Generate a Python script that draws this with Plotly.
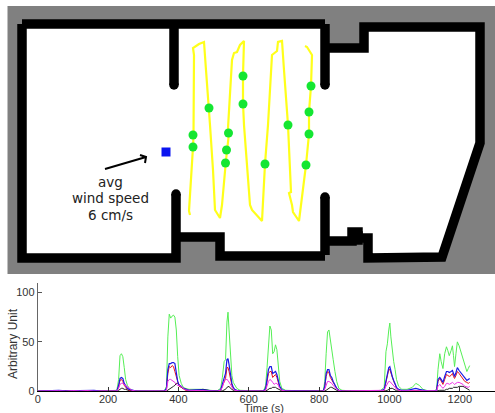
import plotly.graph_objects as go

# ---------- floor plan, in picture units ----------
ground_x = [7.5, 495, 495, 7.5, 7.5]
ground_y = [6, 6, 274, 274, 6]
room_x = [22, 325, 325, 364, 364, 480, 480, 442, 368, 368, 325, 325, 220, 220, 176, 176, 22, 22]
room_y = [24, 24, 48, 48, 27, 27, 143, 257, 258, 238, 241, 256, 256, 237, 237, 258, 258, 24]
wall_x = [325, 325, None, 174, 174, None, 22, 325, None, 325, 364, 364, 480, 480, 442, 368, 368, 358, 358, 352, 352, 325, None,
          325, 325, None, 325, 220, 220, 176, None, 176, 176, 22, 22, None, 352, 358, 358, 352]
wall_y = [24, 85, None, 24, 85, None, 24, 24, None, 48, 48, 27, 27, 143, 257, 258, 238, 238, 232, 232, 241, 241, None,
          197, 255, None, 256, 256, 237, 237, None, 194, 258, 258, 24, None, 236, 236, 240, 240]
wall_end_x = [325, 174, 325, 176]
wall_end_y = [85, 85, 197, 194]

path_x = [190, 189, 193, 193.5, 194, 193, 193, 199, 204, 206, 209, 210, 213, 215, 220, 222, 226, 229, 228, 232,
          234, 237, 240, 244, 243, 243, 244, 247, 250, 252, 262, 265, 268, 272, 277, 278, 282, 284, 288, 291,
          289, 292, 293, 299, 306, 309, 309, 311, 312, 307, 305]
path_y = [215, 211, 147, 135, 55, 50, 48, 44, 42, 70, 108, 125, 170, 210, 218, 205, 160, 133, 128, 60,
          53, 52, 45, 41, 75, 103, 125, 165, 205, 210, 221, 164, 125, 55, 51, 42, 41, 70, 125, 192,
          193, 205, 212, 221, 165, 134, 112, 86, 55, 47, 46]
dot_x = [209, 193, 193, 243, 243, 228.5, 226.5, 225.5, 265, 288, 309, 306, 309, 311]
dot_y = [108, 135, 147, 76, 104, 133, 150, 163, 164, 125, 134, 165, 112, 86]
source_x = [166]
source_y = [152]
arrow_x = [105, 146, 140, 146, 145]
arrow_y = [169, 157, 155, 157, 163]
note_lines = ["avg", "wind speed", "6 cm/s"]
note_y = [182, 198, 215]

# ---------- time series ----------
time_s = [0, 20, 40, 60, 80, 100, 120, 140, 160, 180, 200, 215,
          225, 230, 234, 238, 242, 246, 250, 255, 260, 268, 280,
          300, 330, 360,
          366, 370, 374, 378, 382, 386, 390, 394, 398, 402, 408, 414, 420, 430, 450, 470, 490, 510,
          520, 525, 530, 534, 538, 541, 544, 548, 552, 556, 560, 566, 575, 600, 625,
          642, 648, 652, 656, 660, 664, 668, 672, 676, 680, 684, 688, 694, 705, 730, 770, 795,
          812, 816, 820, 824, 828, 832, 836, 840, 845, 850, 856, 865, 890, 930, 960,
          975, 985, 990, 994, 998, 1001, 1004, 1008, 1012, 1016, 1020, 1026, 1035, 1050, 1065, 1075, 1085, 1095, 1110, 1125,
          1134, 1138, 1143, 1147, 1152, 1157, 1162, 1166, 1170, 1175, 1179, 1182, 1185, 1189, 1193, 1198, 1204, 1209, 1214, 1220, 1224, 1228]
green = [0, .5, .5, .8, .5, .6, .8, 1, .6, .2, .3, .3,
         1, 12, 36, 38, 35, 24, 12, 6, 3, 1, .3,
         .2, .1, .3,
         5, 55, 78, 74, 76, 77, 75, 62, 35, 16, 8, 4, 3, 2, 2, 2, 1, .5,
         3, 14, 30, 32, 70, 80, 62, 34, 16, 9, 6, 3, 1, .5, .3,
         .5, 6, 24, 45, 66, 62, 38, 40, 47, 42, 22, 10, 3, 1, .7, 1, .8,
         .5, 10, 38, 60, 62, 50, 42, 32, 20, 10, 3, 1, .5, .3, .5,
         1, 4, 40, 48, 62, 69, 55, 40, 30, 22, 12, 5, 2, 2, 4, 8, 6, 2, .5, .2,
         2, 22, 38, 30, 23, 38, 45, 41, 36, 41, 46, 36, 25, 38, 50, 46, 39, 32, 25, 20, 23, 26]
blue = [.3, .6, .8, 1, .5, .8, 1, 1.2, 1, .3, .2, .3,
        .5, 6, 13, 14, 13, 8, 5, 3, 2, 1, .2,
        .1, .2, .3,
        3, 22, 28, 28, 29, 29, 28, 18, 10, 6, 5, 3, 2, 1, 1.5, 1.5, .6, .3,
        1.5, 7, 12, 18, 32, 33, 27, 16, 8, 4, 2, 1, .4, .2, .1,
        .3, 3, 14, 22, 25, 25, 18, 19, 20, 17, 9, 5, 1.5, .5, .4, .5, .4,
        .3, 5, 18, 22, 22, 16, 14, 10, 7, 3, 1, .5, .3, .2, .3,
        .5, 2, 12, 16, 24, 25, 20, 15, 11, 8, 4, 2, 1, 1, 2, 3, 2, 1, .2, .2,
        1, 12, 14, 12, 9, 15, 20, 20, 19, 20, 21, 18, 15, 19, 24, 21, 18, 16, 13, 11, 12, 13]
red = [0, .3, .2, .5, .3, .2, .6, .3, .2, 0, 0, .1,
       .3, 5, 11, 12, 10, 6, 4, 2, 1, .5, .1,
       0, .1, .1,
       2, 18, 25, 24, 26, 25, 20, 14, 8, 5, 4, 2, 1, .5, .5, .5, .3, .1,
       1, 5, 9, 13, 24, 24, 20, 12, 6, 3, 1.5, .7, .2, .1, .1,
       .2, 2, 12, 18, 20, 20, 14, 16, 17, 14, 8, 4, 1, .3, .2, .2, .2,
       .2, 4, 15, 20, 19, 14, 12, 9, 6, 3, 1, .3, .2, .1, .1,
       .3, 1, 10, 14, 22, 22, 18, 13, 10, 7, 3, 1, .5, .5, .6, 1, .7, .3, .1, .1,
       1, 10, 13, 10, 7, 12, 17, 16, 15, 16, 18, 15, 13, 16, 20, 18, 15, 12, 10, 9, 8, 9]
magenta = [.2, .5, .3, .6, .2, .7, .4, .8, .3, .2, .1, .2,
           .3, 3, 7, 8, 8, 7, 6, 4, 3, 1, .2,
           .5, .3, .2,
           1, 10, 12, 12, 11, 10, 9, 7, 6, 6, 5, 3, 1.5, 1, .6, .5, .4, .2,
           1, 4, 10, 12, 12, 11, 9, 6, 4, 2, 1, .5, .2, .3, .1,
           .2, 1, 6, 10, 12, 11, 9, 7, 8, 8, 6, 3, 1, .3, .2, .2, .3,
           .2, 2, 7, 10, 10, 9, 8, 6, 4, 2, .8, .3, .5, .5, .4,
           .3, 1, 5, 7, 10, 10, 9, 7, 6, 4, 2, 1, .6, .5, .5, .5, .5, .3, .3, .3,
           .5, 5, 7, 5, 3, 5, 8, 8, 7, 8, 9, 8, 7, 8, 9, 9, 8, 7, 5, 4, 4, 5]
black = [.2, .3, .5, .9, .3, .5, .6, 1, .8, .1, .1, .2,
         .1, 1, 2, 3, 3, 2, 2, 1, .6, .2, .1,
         0, .1, .1,
         .2, 1, 2, 3, 4, 5, 6, 8, 8, 7, 5, 3, 2, 1, 1, 2, .6, .1,
         .1, .5, 1, 2, 4, 5, 5, 3, 1.5, 1, .4, .2, .1, .1, .1,
         0, .3, 1, 2, 3, 3, 4, 4, 4, 3, 2, 1, .4, .1, .1, .1, .1,
         0, .3, 1, 2, 3, 4, 4, 3, 2, 1, .4, .1, .1, .1, .1,
         .1, .2, .5, 1, 2, 3, 3, 3, 2, 1, .6, .3, .2, .2, .3, .4, .3, .2, .1, .1,
         .1, .5, 1, 1, 1, 1, 2, 2, 3, 3, 3, 4, 4, 4, 4, 5, 5, 5, 4, 3, 2, 1]
x_ticks = [0, 200, 400, 600, 800, 1000, 1200]
y_ticks = [0, 50, 100]

fig = go.Figure()
map_axes = dict(xaxis="x2", yaxis="y2", hoverinfo="skip", showlegend=False)
fig.add_trace(go.Scatter(x=ground_x, y=ground_y, mode="lines", fill="toself", fillcolor="#808080",
                         line=dict(width=0), **map_axes))
fig.add_trace(go.Scatter(x=room_x, y=room_y, mode="lines", fill="toself", fillcolor="#ffffff",
                         line=dict(width=0), **map_axes))
fig.add_trace(go.Scatter(x=wall_x, y=wall_y, mode="lines", line=dict(color="#000000", width=9.5), **map_axes))
fig.add_trace(go.Scatter(x=wall_end_x, y=wall_end_y, mode="markers",
                         marker=dict(color="#000000", size=9.5), **map_axes))
fig.add_trace(go.Scatter(x=path_x, y=path_y, mode="lines", line=dict(color="#ffff1a", width=2.2), **map_axes))
fig.add_trace(go.Scatter(x=dot_x, y=dot_y, mode="markers", marker=dict(color="#14e632", size=9), **map_axes))
fig.add_trace(go.Scatter(x=source_x, y=source_y, mode="markers",
                         marker=dict(color="#0a14f0", size=9, symbol="square"), **map_axes))
fig.add_trace(go.Scatter(x=arrow_x, y=arrow_y, mode="lines", line=dict(color="#000000", width=2), **map_axes))

for name, values, colour, width in [("green", green, "#55ee55", 1),
                                    ("black", black, "#222222", 1),
                                    ("red", red, "#e8101c", 1),
                                    ("blue", blue, "#1a1ae6", 1.2),
                                    ("magenta", magenta, "#ee30e6", 1)]:
    fig.add_trace(go.Scatter(x=time_s, y=values, mode="lines", name=name, showlegend=False,
                             line=dict(color=colour, width=width)))

for text, y in zip(note_lines, note_y):
    fig.add_annotation(x=110, y=y, xref="x2", yref="y2", text=text, showarrow=False,
                       font=dict(family="DejaVu Sans", size=13.5, color="#222222"))

axis_font = dict(family="Liberation Sans", size=11, color="#333333")
title_font = dict(family="Liberation Sans", size=12, color="#333333")
fig.add_annotation(x=264, y=407.5, xref="x2", yref="y2", text="Time (s)", showarrow=False, borderpad=0,
                   font=dict(family="Liberation Sans", size=11, color="#333333"))
fig.add_annotation(x=13, y=344, xref="x2", yref="y2", text="Arbitrary Unit", showarrow=False, textangle=-90,
                   font=title_font)

fig.update_layout(
    width=495, height=413, margin=dict(l=0, r=0, t=0, b=0, autoexpand=False),
    paper_bgcolor="#ffffff", plot_bgcolor="rgba(0,0,0,0)", showlegend=False,
    xaxis=dict(domain=[37.7 / 495, 1], range=[0, 1300], anchor="y", tickvals=x_ticks, ticks="inside",
               ticklen=4, tickcolor="#333333", tickfont=axis_font, showgrid=False, zeroline=False,
               showline=True, linecolor="#000000", linewidth=1, automargin=False, ticklabelstandoff=-3),
    yaxis=dict(domain=[(413 - 391.3) / 413, (413 - 283) / 413], range=[0, 109.5], anchor="x", tickvals=y_ticks,
               ticks="inside", ticklen=4, tickcolor="#555555", tickfont=axis_font, showgrid=False,
               zeroline=False, showline=True, linecolor="#666666", linewidth=1, automargin=False),
    xaxis2=dict(domain=[0, 1], range=[0, 495], anchor="y2", visible=False, fixedrange=True),
    yaxis2=dict(domain=[0, 1], range=[413, 0], anchor="x2", visible=False, fixedrange=True),
)
fig.write_html("out.html", post_script="document.body.style.margin='0';document.documentElement.style.overflow='hidden';",
               config={"displayModeBar": False})
